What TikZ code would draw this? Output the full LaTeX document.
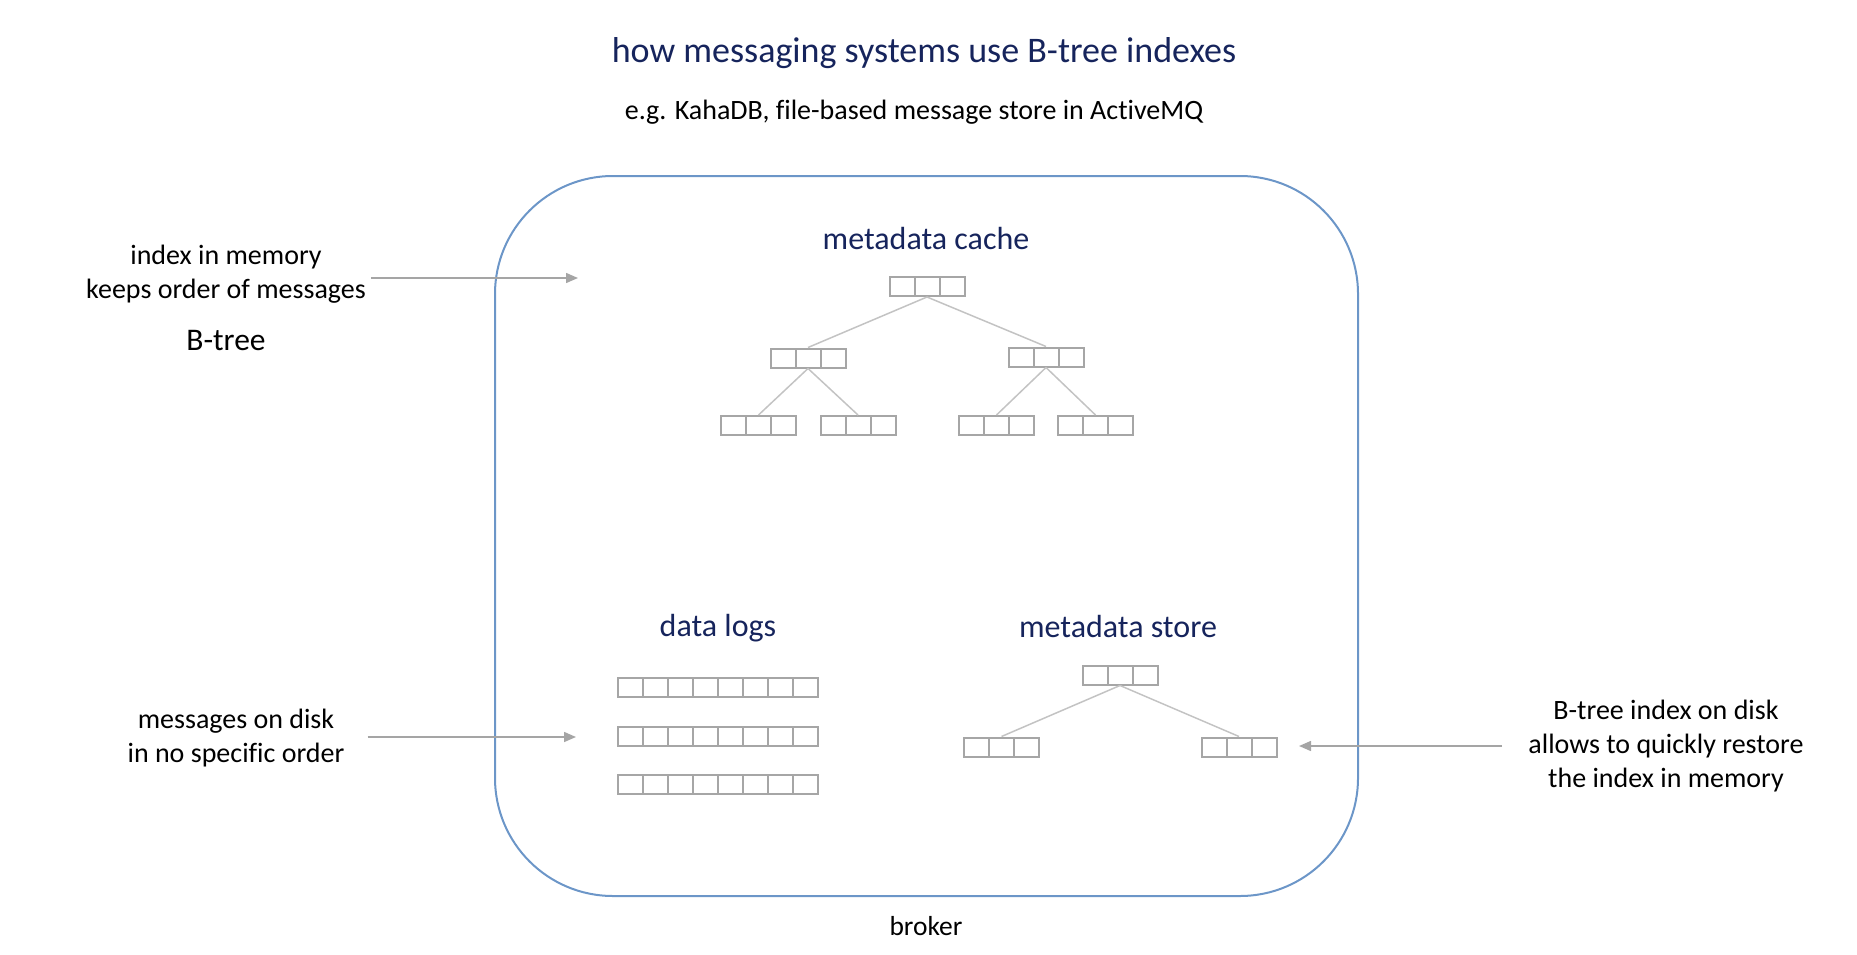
\documentclass[tikz,border=0pt]{standalone}
\usepackage{fontspec}
\setmainfont{Carlito}[Ligatures=NoCommon]
\usetikzlibrary{calc,arrows.meta}
\definecolor{navy}{RGB}{22,36,92}
\definecolor{brokerblue}{RGB}{108,150,200}
\definecolor{cellgray}{RGB}{166,166,166}
\definecolor{edgegray}{RGB}{195,195,195}
\definecolor{arrowgray}{RGB}{165,165,165}
\begin{document}
\begin{tikzpicture}[x=1pt, y=-1pt, % 1pt = 1px、y軸は下向き
  cells/.style={draw=cellgray, line width=2pt, inner sep=0pt, minimum height=19pt, minimum width=#1*25pt,
    path picture={\foreach \k in {1,...,#1}{\draw[cellgray, line width=2pt]
      ($(path picture bounding box.north west)!\k/#1!(path picture bounding box.north east)$) --
      ($(path picture bounding box.south west)!\k/#1!(path picture bounding box.south east)$);}}}, % 区切られた箱
  tree/.style={draw=edgegray, line width=1.5pt}, % 木の枝
  pointer/.style={draw=arrowgray, line width=1.5pt, -{Triangle[length=12pt, width=10pt]}}, % 矢印
  note/.style={align=center, inner sep=4pt, font=\fontsize{28}{34}\selectfont}, % 説明文
  part/.style={navy, font=\fontsize{32}{38}\selectfont}] % 見出し
  \useasboundingbox (0,0) rectangle (1857,955); % 余白込みの大きさ
  \node[navy, font=\fontsize{36}{42}\selectfont] (title) at (924,53) {how messaging systems use B-tree indexes};
  \node[font=\fontsize{28}{34}\selectfont] (subtitle) at (914,112) {e.g. KahaDB, file-based message store in ActiveMQ};
  \node[draw=brokerblue, line width=2pt, rounded corners=118pt, minimum width=863pt, minimum height=720pt] (broker) at (926.5,536) {}; % broker の枠
  \node[font=\fontsize{27.5}{32}\selectfont] (brokerlabel) at (926,926) {broker};
  % metadata cache
  \node[part] (cachelabel) at (926,239) {metadata cache};
  \node[cells=3] (mc) at (927,286.5) {};
  \node[cells=3] (mcL) at (808,358) {};
  \node[cells=3] (mcR) at (1046,357) {};
  \node[cells=3] (mcLL) at (758.5,425.5) {};
  \node[cells=3] (mcLR) at (858,425.5) {};
  \node[cells=3] (mcRL) at (996.5,425.5) {};
  \node[cells=3] (mcRR) at (1095.5,425.5) {};
  \draw[tree] (mc.south)--(mcL.north) (mc.south)--(mcR.north);
  \draw[tree] (mcL.south)--(mcLL.north) (mcL.south)--(mcLR.north);
  \draw[tree] (mcR.south)--(mcRL.north) (mcR.south)--(mcRR.north);
  % data logs
  \node[part] (logslabel) at (718,628) {data logs};
  \foreach \i/\y in {1/687.5,2/736,3/784.3} \node[cells=8] (log\i) at (718,\y) {};
  % metadata store
  \node[part] (storelabel) at (1118,627) {metadata store};
  \node[cells=3] (ms) at (1120,675) {};
  \node[cells=3] (msL) at (1001.5,747) {};
  \node[cells=3] (msR) at (1239,747) {};
  \draw[tree] (ms.south)--(msL.north) (ms.south)--(msR.north);
  % 説明と矢印
  \node[note] (memnote) at (226,274) {index in memory\\keeps order of messages};
  \node[font=\fontsize{31.5}{36}\selectfont] (btree) at (226,341) {B-tree};
  \coordinate (memtip) at (578,278);
  \draw[pointer, shorten <=1pt] (memnote.east |- memtip) -- (memtip);
  \node[note] (disknote) at (236,738) {messages on disk\\in no specific order};
  \coordinate (disktip) at (576,737);
  \draw[pointer, shorten <=19pt] (disknote.east |- disktip) -- (disktip);
  \node[note] (restorenote) at (1666,746) {B-tree index on disk\\allows to quickly restore\\the index in memory};
  \coordinate (restoretip) at (1299,746);
  \draw[pointer, shorten <=22pt] (restorenote.west |- restoretip) -- (restoretip);
\end{tikzpicture}
\end{document}
